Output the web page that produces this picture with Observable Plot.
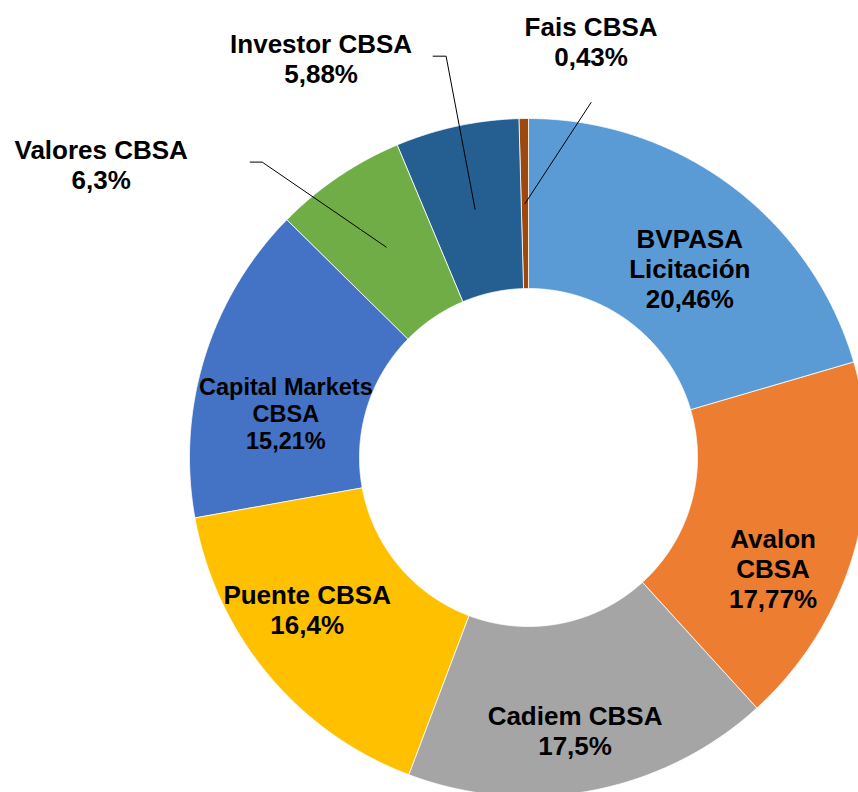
<!DOCTYPE html>
<html>
<head>
<meta charset="utf-8">
<script src="https://cdn.jsdelivr.net/npm/d3@7"></script>
<script src="https://cdn.jsdelivr.net/npm/@observablehq/plot@0.6"></script>
<style>
  html, body { margin: 0; padding: 0; background: #ffffff; }
  #chart svg { display: block; }
</style>
</head>
<body>
<div id="chart"></div>
<script>
// ---- Data ----
const names = ["BVPASA Licitación", "Avalon CBSA", "Cadiem CBSA", "Puente CBSA", "Capital Markets CBSA", "Valores CBSA", "Investor CBSA", "Fais CBSA"];
const labelNames = ["BVPASA\nLicitación", "Avalon\nCBSA", "Cadiem CBSA", "Puente CBSA", "Capital Markets\nCBSA", "Valores CBSA", "Investor CBSA", "Fais CBSA"];
const values = [20.46, 17.77, 17.5, 16.4, 15.21, 6.3, 5.88, 0.43];
const valueLabels = ["20,46%", "17,77%", "17,5%", "16,4%", "15,21%", "6,3%", "5,88%", "0,43%"];
const colors = ["#5B9BD5", "#ED7D31", "#A5A5A5", "#FFC000", "#4472C4", "#70AD47", "#255E91", "#9E480E"];

// ---- Layout (pixels) ----
const W = 858, H = 792;
const CX = 528, CY = 457;
const R = 339, R0 = 169, RL = 254;
const labelNudge = [[9, 14], [0, 42], [-1, 23], [-26, -10], [0, 31], [-285, -83], [-154, -151], [66, -162]];
const labelSize = [26, 26, 26, 26, 23.5, 26, 26, 26];
const leaderElbows = {5: [[-136, -85], [-124, -85]], 6: [[-42, -153], [-29, -153]], 7: [[66, -101]]};

const data = names.map((name, i) => ({name, value: values[i], label: labelNames[i] + "\n" + valueLabels[i], i}));
const arcs = d3.pie().sort(null).value(d => d.value)(data);

const ring = [];
arcs.forEach(a => {
  const n = Math.max(2, Math.ceil((a.endAngle - a.startAngle) / 0.004));
  for (let k = 0; k <= n; k++) {
    const t = a.startAngle + (a.endAngle - a.startAngle) * k / n;
    ring.push({name: a.data.name, x: R * Math.sin(t), y: -R * Math.cos(t)});
  }
  for (let k = n; k >= 0; k--) {
    const t = a.startAngle + (a.endAngle - a.startAngle) * k / n;
    ring.push({name: a.data.name, x: R0 * Math.sin(t), y: -R0 * Math.cos(t)});
  }
});

const labels = arcs.map(a => {
  const m = (a.startAngle + a.endAngle) / 2;
  const i = a.data.i;
  return {
    text: a.data.label,
    size: labelSize[i],
    cx: RL * Math.sin(m), cy: -RL * Math.cos(m),
    x: RL * Math.sin(m) + labelNudge[i][0],
    y: -RL * Math.cos(m) + labelNudge[i][1],
    i
  };
});

const leaders = [];
labels.forEach(l => {
  const e = leaderElbows[l.i];
  if (!e) return;
  e.forEach(p => leaders.push({id: l.i, x: l.cx + p[0], y: l.cy + p[1]}));
  leaders.push({id: l.i, x: l.cx, y: l.cy});
});

const plot = Plot.plot({
  width: W,
  height: H,
  margin: 0,
  style: {background: "#ffffff", overflow: "visible"},
  x: {domain: [-CX, W - CX], axis: null},
  y: {domain: [-CY, H - CY], reverse: true, axis: null},
  color: {domain: names, range: colors},
  marks: [
    Plot.line(ring, {x: "x", y: "y", z: "name", fill: "name", stroke: "#ffffff", strokeWidth: 0.8, curve: "linear-closed"}),
    Plot.line(leaders, {x: "x", y: "y", z: "id", stroke: "#000000", strokeWidth: 1}),
    Plot.text(labels, {
      x: "x", y: "y", text: "text", fontSize: "size",
      fill: "#000000", fontWeight: "bold",
      fontFamily: "'Liberation Sans', Arial, sans-serif",
      textAnchor: "middle", lineAnchor: "middle", lineHeight: 1.15
    })
  ]
});
document.getElementById("chart").appendChild(plot);
</script>
</body>
</html>
